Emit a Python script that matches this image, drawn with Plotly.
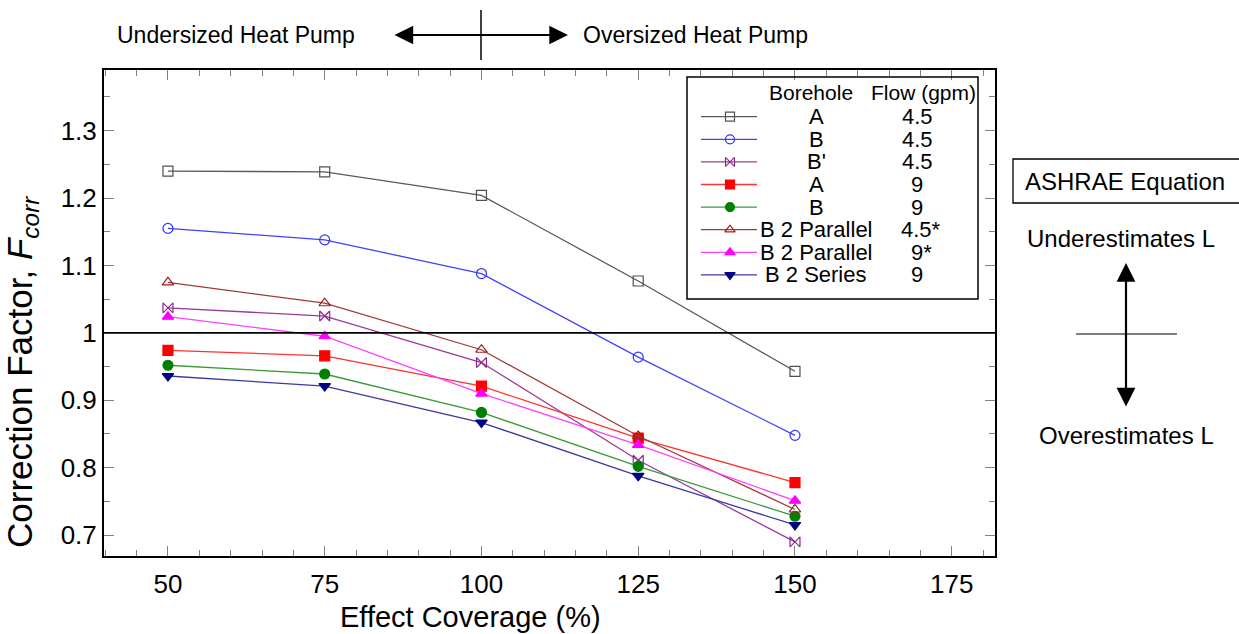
import plotly.graph_objects as go

# Effect coverage (%) on the x axis
coverage = [50, 75, 100, 125, 150]

# Correction factor F_corr for each borehole / flow case
a_45 = [1.240, 1.239, 1.204, 1.077, 0.943]
b_45 = [1.155, 1.138, 1.088, 0.964, 0.848]
bprime_45 = [1.037, 1.025, 0.956, 0.811, 0.690]
a_9 = [0.974, 0.966, 0.921, 0.844, 0.778]
b_9 = [0.952, 0.939, 0.882, 0.802, 0.728]
b2par_45 = [1.075, 1.044, 0.975, 0.847, 0.738]
b2par_9 = [1.024, 0.995, 0.910, 0.834, 0.751]
b2ser_9 = [0.936, 0.921, 0.867, 0.788, 0.715]

boreholes = ["A", "B", "B'", "A", "B", "B 2 Parallel", "B 2 Parallel", "B 2 Series"]
flows = ["4.5", "4.5", "4.5", "9", "9", "4.5*", "9*", "9"]

x_ticks = [50, 75, 100, 125, 150, 175]
y_ticks = [0.7, 0.8, 0.9, 1.0, 1.1, 1.2, 1.3]
y_tick_text = ["0.7", "0.8", "0.9", "1", "1.1", "1.2", "1.3"]

series = [
    (a_45, "#5a5a5a", "square-open", "#505050"),
    (b_45, "#4040ff", "circle-open", "#3030ff"),
    (bprime_45, "#9a3a9a", "bowtie-open", "#8a2a8a"),
    (a_9, "#ff3030", "square", "#ff0000"),
    (b_9, "#3a9a3a", "circle", "#008000"),
    (b2par_45, "#a03a3a", "triangle-up-open", "#a02020"),
    (b2par_9, "#ff40ff", "triangle-up", "#ff00ff"),
    (b2ser_9, "#3a3aa0", "triangle-down", "#000080"),
]

FONT = "Liberation Sans, Arial, sans-serif"
W, H = 1239, 634
L, R, T, B = 104, 995, 70, 556


def px(x):
    return (x - L) / (R - L)


def py(y):
    return (B - y) / (B - T)


fig = go.Figure()

for vals, lc, sym, mc in series:
    fig.add_trace(go.Scatter(
        x=coverage, y=vals, mode="lines+markers",
        line=dict(color=lc, width=1.3),
        marker=dict(symbol=sym, size=10, color=mc,
                    line=dict(color=mc, width=1.2)),
        showlegend=False, hoverinfo="skip",
    ))

# Legend swatches drawn on a pixel-scaled overlay axis
ROW0, ROWSTEP = 116.7, 22.6
for i, (vals, lc, sym, mc) in enumerate(series):
    yrow = ROW0 + i * ROWSTEP
    fig.add_trace(go.Scatter(
        x=[701, 757], y=[yrow, yrow], mode="lines",
        line=dict(color=lc, width=1.3), xaxis="x2", yaxis="y2",
        showlegend=False, hoverinfo="skip",
    ))
    fig.add_trace(go.Scatter(
        x=[730], y=[yrow], mode="markers",
        marker=dict(symbol=sym, size=9, color=mc, line=dict(color=mc, width=1.2)),
        xaxis="x2", yaxis="y2", showlegend=False, hoverinfo="skip",
    ))

annotations = []


def text(x, y, s, size, **kw):
    annotations.append(dict(
        x=px(x), y=py(y), xref="paper", yref="paper", text=s, showarrow=False,
        xanchor="center", yanchor="middle",
        font=dict(family=FONT, size=size, color="black"), **kw))


# Legend text
text(811, 93, "Borehole", 21)
text(923, 93, "Flow (gpm)", 21)
for i, (bh, fl) in enumerate(zip(boreholes, flows)):
    yrow = ROW0 + i * ROWSTEP
    text(816, yrow, bh, 22)
    text(917 if "*" not in fl else 921, yrow, fl, 22)

# Axis titles
text(470, 617, "Effect Coverage (%)", 29)
text(22, 372, "Correction Factor, <i>F</i><sub><i>corr</i></sub>", 35, textangle=-90)

# Heat pump sizing labels
text(236, 35, "Undersized Heat Pump", 23)
text(695, 35, "Oversized Heat Pump", 23)

# ASHRAE side notes
text(1125, 181, "ASHRAE Equation", 24)
text(1121, 238, "Underestimates L", 24)
text(1126, 435, "Overestimates L", 24)

# Horizontal double arrow
annotations.append(dict(
    x=px(568), y=py(35), xref="paper", yref="paper",
    ax=393 - 568, ay=0, axref="pixel", ayref="pixel",
    showarrow=True, arrowhead=2, startarrowhead=2, arrowside="end+start",
    arrowsize=1.7, startarrowsize=1.7, arrowwidth=2.2, arrowcolor="black", text=""))
# Vertical double arrow
annotations.append(dict(
    x=px(1126), y=py(263), xref="paper", yref="paper",
    ax=0, ay=408 - 263, axref="pixel", ayref="pixel",
    showarrow=True, arrowhead=2, startarrowhead=2, arrowside="end+start",
    arrowsize=1.7, startarrowsize=1.7, arrowwidth=2.2, arrowcolor="black", text=""))

shapes = [
    # reference line at F_corr = 1
    dict(type="line", xref="paper", yref="y", x0=0, x1=1, y0=1.0, y1=1.0,
         line=dict(color="black", width=1.6)),
    # legend box
    dict(type="rect", xref="paper", yref="paper",
         x0=px(687), x1=px(978), y0=py(77), y1=py(299),
         line=dict(color="black", width=1.5), fillcolor="rgba(0,0,0,0)"),
    # divider between sizing labels
    dict(type="line", xref="paper", yref="paper",
         x0=px(481), x1=px(481), y0=py(10), y1=py(60),
         line=dict(color="black", width=1.5)),
    # ASHRAE box
    dict(type="rect", xref="paper", yref="paper",
         x0=px(1013), x1=px(1245), y0=py(159), y1=py(203),
         line=dict(color="black", width=1.3), fillcolor="rgba(0,0,0,0)"),
    # horizontal mark on the vertical arrow
    dict(type="line", xref="paper", yref="paper",
         x0=px(1076), x1=px(1177), y0=py(334), y1=py(334),
         line=dict(color="black", width=1)),
]

fig.update_layout(
    width=W, height=H,
    margin=dict(l=L, r=W - R, t=T, b=H - B),
    paper_bgcolor="white", plot_bgcolor="white",
    font=dict(family=FONT, size=20, color="black"),
    annotations=annotations, shapes=shapes,
    xaxis=dict(
        range=[39.8, 181.9], tickvals=x_ticks, ticks="inside", ticklen=10,
        tickcolor="#808080", tickwidth=1.2, showgrid=False, zeroline=False,
        showline=True, linecolor="black", linewidth=2, mirror="ticks",
        tickfont=dict(family=FONT, size=26), ticklabelstandoff=4,
        minor=dict(dtick=5, tick0=50, ticks="inside", ticklen=6,
                   tickcolor="#808080", tickwidth=1, showgrid=False),
    ),
    yaxis=dict(
        range=[0.669, 1.39], tickvals=y_ticks, ticktext=y_tick_text,
        ticks="inside", ticklen=10, tickcolor="#808080", tickwidth=1.2,
        showgrid=False, zeroline=False, showline=True, linecolor="black",
        linewidth=2, mirror="ticks", tickfont=dict(family=FONT, size=26),
        minor=dict(dtick=0.05, tick0=0.7, ticks="inside", ticklen=6,
                   tickcolor="#808080", tickwidth=1, showgrid=False),
    ),
    xaxis2=dict(overlaying="x", range=[L, R], visible=False, domain=[0, 1]),
    yaxis2=dict(overlaying="y", range=[B, T], visible=False),
)

fig.write_html("out.html")
